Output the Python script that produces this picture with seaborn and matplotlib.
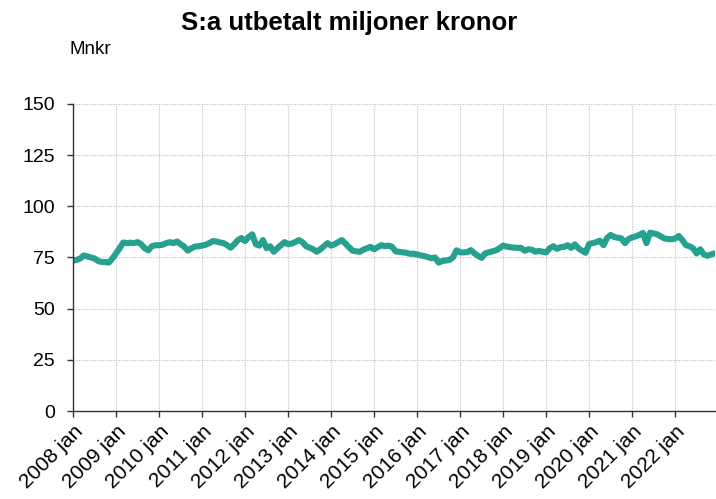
import matplotlib
matplotlib.use("Agg")
import matplotlib.pyplot as plt
import seaborn as sns
import pandas as pd

# monthly values (Mnkr), 2008 jan .. 2022 dec
v2008 = [73.5, 73.8, 74.5, 76.0, 75.5, 75.0, 74.5, 73.3, 72.8, 72.8, 72.5, 74.5]
v2009 = [77.0, 79.5, 82.3, 82.0, 82.2, 82.0, 82.5, 81.5, 79.5, 78.5, 80.5, 81.0]
v2010 = [81.0, 81.2, 82.0, 82.5, 82.0, 82.8, 81.5, 80.3, 78.3, 79.5, 80.3, 80.5]
v2011 = [80.8, 81.2, 82.0, 83.0, 82.8, 82.3, 82.0, 81.0, 79.8, 81.5, 83.5, 84.5]
v2012 = [83.0, 85.0, 86.3, 81.5, 80.8, 83.5, 79.5, 80.5, 77.8, 79.5, 81.0, 82.5]
v2013 = [81.5, 81.8, 82.5, 83.5, 82.5, 80.5, 79.8, 79.0, 77.8, 79.0, 80.5, 82.0]
v2014 = [80.8, 81.5, 82.5, 83.5, 81.8, 80.0, 78.3, 78.0, 77.8, 78.8, 79.5, 80.2]
v2015 = [79.0, 80.0, 81.0, 80.5, 80.8, 80.2, 78.0, 77.8, 77.5, 77.3, 76.8, 76.8]
v2016 = [76.5, 76.0, 75.7, 75.2, 74.6, 75.0, 72.5, 73.3, 73.5, 73.8, 75.0, 78.5]
v2017 = [77.5, 77.5, 77.6, 78.6, 77.0, 75.8, 74.8, 77.0, 77.5, 78.0, 78.5, 79.5]
v2018 = [80.8, 80.3, 80.0, 79.8, 79.7, 79.7, 78.3, 79.0, 78.8, 77.8, 78.2, 77.8]
v2019 = [77.5, 79.5, 80.5, 79.2, 80.0, 80.2, 81.0, 79.7, 81.4, 79.5, 78.3, 77.3]
v2020 = [81.6, 82.0, 82.5, 83.2, 81.0, 84.5, 86.0, 85.0, 84.6, 84.3, 82.0, 84.0]
v2021 = [84.8, 85.3, 86.0, 87.0, 82.0, 87.1, 86.7, 86.3, 85.3, 84.3, 84.0, 83.9]
v2022 = [84.2, 85.5, 83.5, 81.0, 80.5, 79.5, 77.0, 79.0, 76.5, 75.8, 76.5, 77.0]

years = list(range(2008, 2023))
values = (v2008 + v2009 + v2010 + v2011 + v2012 + v2013 + v2014 + v2015
          + v2016 + v2017 + v2018 + v2019 + v2020 + v2021 + v2022)
tick_labels = [f"{y} jan" for y in years]
y_ticks = [0, 25, 50, 75, 100, 125, 150]

df = pd.DataFrame({"month": range(len(values)), "mnkr": values})

sns.set_style("white")
plt.rcParams['font.family'] = ['Liberation Sans', 'DejaVu Sans']
plt.rcParams['text.color'] = 'black'

fig = plt.figure(figsize=(7.16, 4.99), dpi=100)
ax = fig.add_axes([0.102, 0.176, 0.896, 0.616])

sns.lineplot(data=df, x="month", y="mnkr", ax=ax, color="#26a08f", linewidth=4.4)

ax.set_xlim(0, len(values) - 1)
ax.set_ylim(0, 150)
ax.set_yticks(y_ticks)
ax.set_xticks([12 * i for i in range(len(years))])
ax.set_xticklabels(tick_labels, rotation=45, ha="right", rotation_mode="anchor")
ax.tick_params(axis="both", colors="#333333", labelcolor="black",
               width=1, direction="out", left=True, bottom=True)
ax.tick_params(axis="y", length=4.5, pad=8.5, labelsize=14)
ax.tick_params(axis="x", length=4.5, pad=3, labelsize=15)
ax.grid(True, linestyle=(0, (1.2, 1.2)), color="#c4c4c4", linewidth=0.8)
ax.set_axisbelow(True)
ax.set_xlabel("")
ax.set_ylabel("")
for s in ["top", "right"]:
    ax.spines[s].set_visible(False)
for s in ["left", "bottom"]:
    ax.spines[s].set_color("#333333")
    ax.spines[s].set_linewidth(1)

fig.text(0.487, 0.953, "S:a utbetalt miljoner kronor", ha="center", va="center",
         fontsize=18.5, fontweight="bold")
fig.text(0.097, 0.901, "Mnkr", ha="left", va="center", fontsize=13.5)

fig.savefig("out.png", dpi=100)
